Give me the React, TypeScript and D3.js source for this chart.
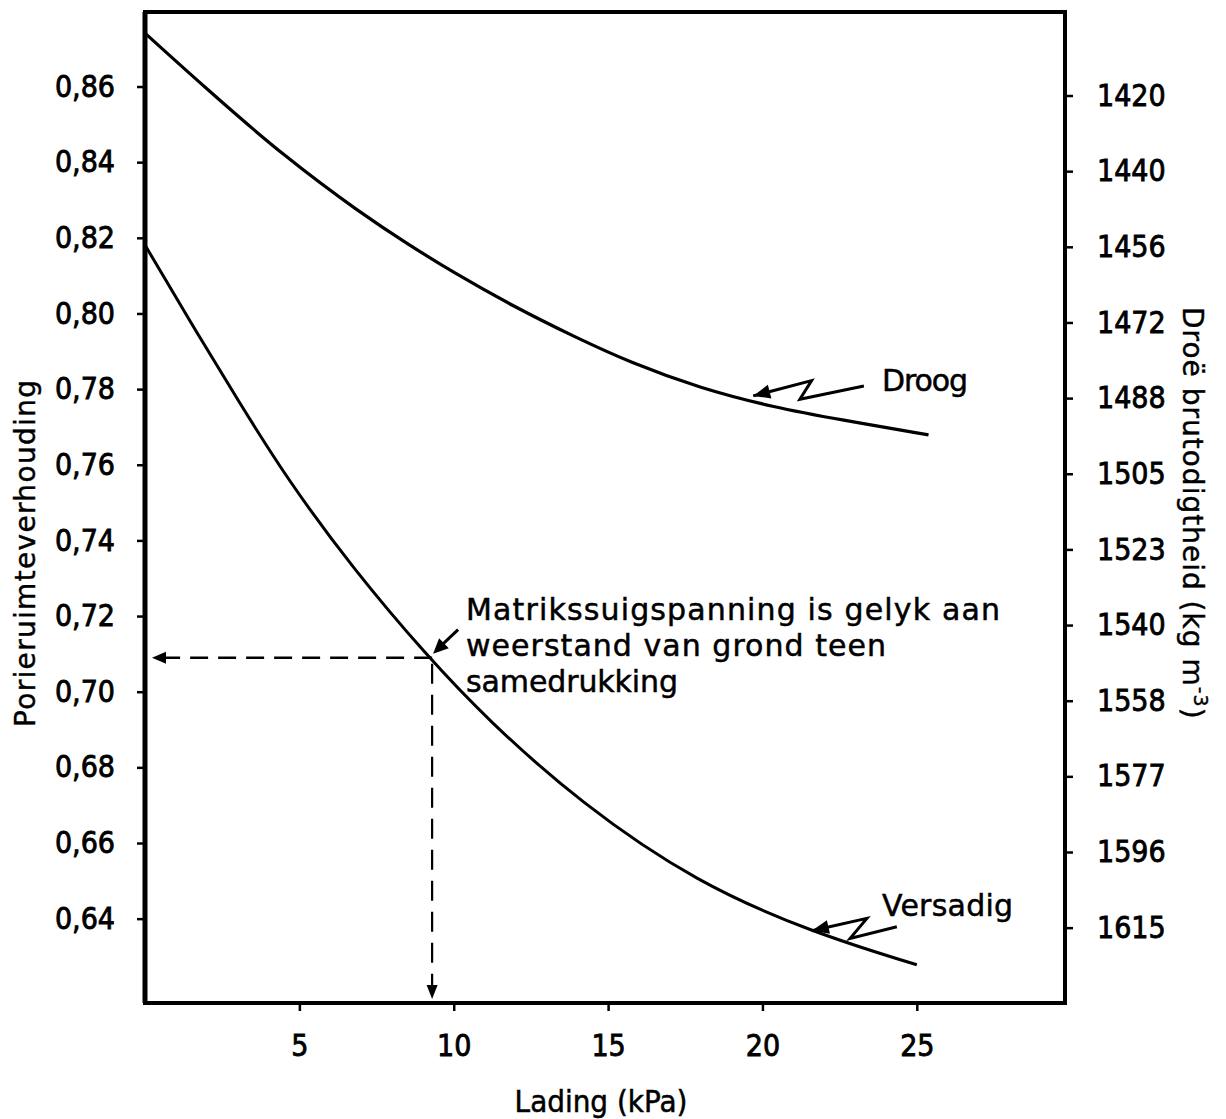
import React, { useEffect, useRef } from "react";
import * as d3 from "d3";

// Lading (kPa) teenoor porieruimteverhouding, afgelees van die figuur
const droogLoad = [0, 2.03, 4.51, 6.99, 8.5, 10.01, 11.95, 13.89, 15.72, 17.99, 20.36, 22.52, 25.38];
const droogVoid = [0.8741, 0.8591, 0.8415, 0.8265, 0.8184, 0.8107, 0.8018, 0.7939, 0.787, 0.7802, 0.7752, 0.7719, 0.7679];

const versadigLoad = [0, 1.49, 3.0, 4.62, 6.77, 9.15, 11.09, 14.11, 17.88, 21.66, 25.0];
const versadigVoid = [0.8181, 0.7975, 0.7772, 0.756, 0.7322, 0.7093, 0.6926, 0.6705, 0.6494, 0.6362, 0.6278];

const loadTicks = [5, 10, 15, 20, 25];
const voidTicks = [0.86, 0.84, 0.82, 0.8, 0.78, 0.76, 0.74, 0.72, 0.7, 0.68, 0.66, 0.64];
// droë brutodigtheid that goes with each void ratio tick
const densityLabels = ["1420", "1440", "1456", "1472", "1488", "1505", "1523", "1540", "1558", "1577", "1596", "1615"];

// matric suction equals resistance of soil to compression
const markLoad = 9.3;
const markVoid = 0.709;

// where the label pointers touch the curves
const droogPointer = { load: 19.7, void: 0.7782 };
const versadigPointer = { load: 21.6, void: 0.6368 };

const W = 1226;
const H = 1119;
const frame = { left: 145, right: 1065, top: 12, bottom: 1003 };
const numFont = "'DejaVu Sans Condensed', 'DejaVu Sans', sans-serif";
const textFont = "'DejaVu Sans', sans-serif";

const x = d3.scaleLinear().domain([0, 29.8]).range([frame.left, frame.right]);
const y = d3.scaleLinear().domain([0.6177, 0.8797]).range([frame.bottom, frame.top]);
// the right hand scale was drawn a little lower than the left one
const yRight = y.copy().range([frame.bottom + 9, frame.top + 9]);

const commaFmt = d3.formatLocale({ decimal: ",", thousands: ".", grouping: [3], currency: ["", ""] }).format(".2f");

const line = d3
  .line<[number, number]>()
  .x((d) => x(d[0]))
  .y((d) => y(d[1]))
  .curve(d3.curveBasis);

function arrowHead(tip: [number, number], from: [number, number], len = 15, half = 6) {
  const dx = tip[0] - from[0];
  const dy = tip[1] - from[1];
  const l = Math.hypot(dx, dy);
  const ux = dx / l, uy = dy / l;
  const bx = tip[0] - ux * len, by = tip[1] - uy * len;
  return `M${tip[0]},${tip[1]}L${bx - uy * half},${by + ux * half}L${bx + uy * half},${by - ux * half}Z`;
}

function Pointer({ anchor, offsets }: { anchor: { load: number; void: number }; offsets: [number, number][] }) {
  const tx = x(anchor.load);
  const ty = y(anchor.void);
  const pts: [number, number][] = offsets.map((o) => [tx + o[0], ty + o[1]]);
  pts.push([tx, ty]);
  const prev = pts[pts.length - 2];
  return (
    <g>
      <polyline points={pts.map((p) => p.join(",")).join(" ")} fill="none" stroke="#000" strokeWidth={3} strokeLinejoin="miter" />
      <path d={arrowHead([tx, ty], prev, 17, 7)} fill="#000" />
    </g>
  );
}

export default function App() {
  const leftRef = useRef<SVGGElement>(null);
  const rightRef = useRef<SVGGElement>(null);
  const bottomRef = useRef<SVGGElement>(null);

  useEffect(() => {
    const style = (g: d3.Selection<SVGGElement, unknown, null, undefined>) => {
      g.select(".domain").remove();
      g.selectAll(".tick line").attr("stroke", "#000").attr("stroke-width", 2.5);
      g.selectAll(".tick text")
        .attr("fill", "#000")
        .attr("stroke", "#000")
        .attr("stroke-width", 0.8)
        .style("font-family", numFont)
        .style("font-size", "30px");
    };

    const left = d3.select(leftRef.current!);
    left.call(d3.axisLeft(y).tickValues(voidTicks).tickSize(8).tickPadding(22).tickFormat((d) => commaFmt(d as number)));
    style(left);

    const right = d3.select(rightRef.current!);
    right.call(
      d3.axisRight(yRight).tickValues(voidTicks).tickSize(8).tickPadding(24)
        .tickFormat((d, i) => densityLabels[i])
    );
    style(right);

    const bottom = d3.select(bottomRef.current!);
    bottom.call(d3.axisBottom(x).tickValues(loadTicks).tickSize(8).tickPadding(24).tickFormat(d3.format("d")));
    style(bottom);
  }, []);

  const droog = droogLoad.map((v, i) => [v, droogVoid[i]] as [number, number]);
  const versadig = versadigLoad.map((v, i) => [v, versadigVoid[i]] as [number, number]);

  const mx = x(markLoad);
  const my = y(markVoid);
  const hTip: [number, number] = [x(0) + 7, my];
  const vTip: [number, number] = [mx, frame.bottom - 4];

  return (
    <svg width={W} height={H} style={{ position: "absolute", left: 0, top: 0, background: "#fff" }}>
      <rect x={0} y={0} width={W} height={H} fill="#fff" />
      <rect
        x={frame.left}
        y={frame.top}
        width={frame.right - frame.left}
        height={frame.bottom - frame.top}
        fill="none"
        stroke="#000"
        strokeWidth={4}
      />
      <line x1={frame.left} y1={frame.top} x2={frame.left} y2={frame.bottom} stroke="#000" strokeWidth={5} />
      <g ref={leftRef} transform={`translate(${frame.left},0)`} />
      <g ref={rightRef} transform={`translate(${frame.right},0)`} />
      <g ref={bottomRef} transform={`translate(0,${frame.bottom})`} />

      <path d={line(droog)!} fill="none" stroke="#000" strokeWidth={3.2} />
      <path d={line(versadig)!} fill="none" stroke="#000" strokeWidth={3} />

      {/* dashed read-off lines */}
      <line x1={mx} y1={my} x2={hTip[0] + 12} y2={my} stroke="#000" strokeWidth={2.5} strokeDasharray="18 10" />
      <path d={arrowHead(hTip, [mx, my], 14, 6)} fill="#000" />
      <line x1={mx} y1={my + 6} x2={mx} y2={vTip[1] - 12} stroke="#000" strokeWidth={2.2} strokeDasharray="20 11" />
      <path d={arrowHead(vTip, [mx, my], 14, 5.5)} fill="#000" />

      {/* annotation arrow */}
      <line x1={mx + 26} y1={my - 28} x2={mx + 8} y2={my - 11} stroke="#000" strokeWidth={3} />
      <path d={arrowHead([mx + 1, my - 4], [mx + 26, my - 28], 15, 7)} fill="#000" />

      <g fontFamily={textFont} fontSize={30} fill="#000" stroke="#000" strokeWidth={0.5}>
        <text x={466} y={620} textLength={534} lengthAdjust="spacing">Matrikssuigspanning is gelyk aan</text>
        <text x={466} y={656} textLength={420} lengthAdjust="spacing">weerstand van grond teen</text>
        <text x={466} y={692} textLength={212} lengthAdjust="spacing">samedrukking</text>
        <text x={882} y={391} textLength={86} lengthAdjust="spacing">Droog</text>
        <text x={882} y={916} textLength={131} lengthAdjust="spacing">Versadig</text>
      </g>

      <Pointer anchor={droogPointer} offsets={[[110.7, -10], [46.7, 3.3], [58.4, -15.3]]} />
      <Pointer anchor={versadigPointer} offsets={[[85, -4], [38.3, 7.6], [55, -12.4]]} />

      {/* axis titles */}
      <text
        x={35}
        y={727}
        transform="rotate(-90 35 727)"
        fontFamily={textFont}
        fontSize={28}
        textLength={347}
        lengthAdjust="spacing"
        fill="#000"
        stroke="#000"
        strokeWidth={0.4}
      >
        Porieruimteverhouding
      </text>
      <text
        x={1183}
        y={307}
        transform="rotate(90 1183 307)"
        fontFamily={textFont}
        fontSize={28}
        letterSpacing={1}
        fill="#000"
        stroke="#000"
        strokeWidth={0.4}
      >
        Droë brutodigtheid (kg m<tspan dy={-11} fontSize={19}>-3</tspan>
        <tspan dy={11}>)</tspan>
      </text>
      <text x={601} y={1112} textAnchor="middle" fontFamily={numFont} fontSize={31} fill="#000" stroke="#000" strokeWidth={0.5}>
        Lading (kPa)
      </text>
    </svg>
  );
}
